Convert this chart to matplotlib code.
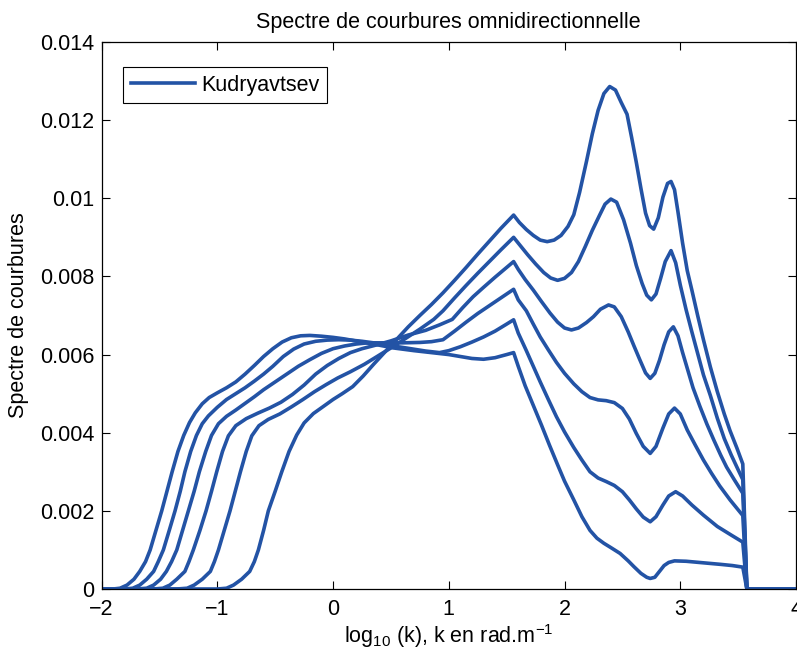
import numpy as np
import matplotlib
matplotlib.use("Agg")
import matplotlib.pyplot as plt

plt.rcParams['font.family'] = ['Liberation Sans', 'DejaVu Sans']
plt.rcParams['mathtext.default'] = 'regular'

# six spectra, from the earliest rising (c0) to the latest rising (c5)
x_c0 = [-2.0, -1.9, -1.84, -1.78, -1.72, -1.67, -1.62, -1.58, -1.53, -1.48, -1.435, -1.39,
        -1.34, -1.29, -1.24, -1.19, -1.13, -1.07, -1.0, -0.92, -0.84, -0.76, -0.68, -0.60,
        -0.52, -0.44, -0.36, -0.28, -0.2, -0.1, 0.0, 0.1, 0.23, 0.4, 0.52, 0.7, 0.85, 1.0,
        1.1, 1.2, 1.3, 1.4, 1.5, 1.56, 1.6, 1.66, 1.73, 1.8, 1.87, 1.94, 2.0, 2.08, 2.15,
        2.22, 2.28, 2.34, 2.4, 2.48, 2.55, 2.6, 2.66, 2.71, 2.74, 2.78, 2.82, 2.86, 2.9,
        2.95, 3.05, 3.2, 3.35, 3.45, 3.54, 3.575, 4.0]
y_c0 = [0, 0, 0.00002, 0.0001, 0.00025, 0.00045, 0.0007, 0.001, 0.0015, 0.002, 0.0025,
        0.003, 0.00352, 0.00393, 0.00426, 0.00451, 0.00474, 0.0049, 0.00502, 0.00515, 0.0053,
        0.0055, 0.00572, 0.00595, 0.00615, 0.00632, 0.00643, 0.00648, 0.00649, 0.00647,
        0.00644, 0.0064, 0.00633, 0.00624, 0.00617, 0.0061, 0.00605, 0.006, 0.00595,
        0.0059, 0.00588, 0.00592, 0.006, 0.00605, 0.0057, 0.0052, 0.0047, 0.0042, 0.00368,
        0.00318, 0.00276, 0.00228, 0.00185, 0.0015, 0.0013, 0.00117, 0.00106, 0.00091,
        0.00072, 0.00057, 0.0004, 0.0003, 0.00027, 0.0003, 0.00045, 0.0006, 0.00068,
        0.00072, 0.00071, 0.00067, 0.00063, 0.0006, 0.00056, 0, 0]

x_c1 = [-2.0, -1.8, -1.73, -1.67, -1.61, -1.55, -1.51, -1.466, -1.415, -1.365, -1.32, -1.28,
        -1.23, -1.18, -1.13, -1.077, -1.0, -0.92, -0.84, -0.76, -0.68, -0.6, -0.52, -0.43,
        -0.34, -0.25, -0.15, -0.05, 0.05, 0.15, 0.25, 0.4, 0.52, 0.65, 0.8, 0.92, 1.0, 1.1,
        1.2, 1.3, 1.4, 1.5, 1.56, 1.6, 1.67, 1.73, 1.79, 1.86, 1.93, 2.0, 2.08, 2.15, 2.22,
        2.29, 2.36, 2.43, 2.5, 2.56, 2.62, 2.68, 2.74, 2.79, 2.85, 2.9, 2.96, 3.02, 3.1,
        3.2, 3.32, 3.44, 3.54, 3.575, 4.0]
y_c1 = [0, 0, 0.00002, 0.0001, 0.00025, 0.00045, 0.0007, 0.001, 0.0015, 0.002, 0.0025,
        0.003, 0.00352, 0.00393, 0.00423, 0.00443, 0.00465, 0.00485, 0.005, 0.00515, 0.00532,
        0.0055, 0.0057, 0.00595, 0.00614, 0.00627, 0.00634, 0.00637, 0.00638, 0.00637,
        0.00634, 0.00628, 0.00622, 0.00616, 0.00609, 0.00605, 0.0061, 0.0062, 0.00632,
        0.00645, 0.0066, 0.00678, 0.00689, 0.00655, 0.0061, 0.0057, 0.0053, 0.00485,
        0.00441, 0.00402, 0.00362, 0.0033, 0.003, 0.00284, 0.00275, 0.00265, 0.00249,
        0.00228, 0.00205, 0.00184, 0.00172, 0.00185, 0.00215, 0.00238, 0.00249, 0.00238,
        0.00215, 0.00189, 0.0016, 0.00138, 0.0012, 0, 0]

x_c2 = [-2.0, -1.7, -1.61, -1.55, -1.49, -1.44, -1.395, -1.35, -1.3, -1.25, -1.2, -1.155,
        -1.1, -1.05, -0.99, -0.92, -0.84, -0.76, -0.68, -0.6, -0.5, -0.4, -0.3, -0.2, -0.1,
        0.0, 0.1, 0.2, 0.3, 0.45, 0.6, 0.75, 0.85, 0.95, 1.05, 1.15, 1.25, 1.35, 1.45, 1.56,
        1.6, 1.67, 1.73, 1.79, 1.86, 1.93, 2.0, 2.08, 2.15, 2.22, 2.29, 2.36, 2.43, 2.5,
        2.56, 2.62, 2.68, 2.74, 2.79, 2.85, 2.9, 2.95, 3.0, 3.06, 3.13, 3.2, 3.27, 3.34,
        3.43, 3.54, 3.575, 4.0]
y_c2 = [0, 0, 0.00002, 0.0001, 0.00025, 0.00045, 0.0007, 0.001, 0.0015, 0.002, 0.0025,
        0.003, 0.00352, 0.00393, 0.00423, 0.00442, 0.00458, 0.00475, 0.00492, 0.0051, 0.0053,
        0.0055, 0.0057, 0.00587, 0.00603, 0.00615, 0.00622, 0.00627, 0.0063, 0.0063,
        0.0063, 0.00631, 0.00633, 0.00638, 0.0066, 0.00683, 0.00705, 0.00725, 0.00745,
        0.00767, 0.0074, 0.00712, 0.00678, 0.00645, 0.00612, 0.0058, 0.00552, 0.00525,
        0.00505, 0.0049, 0.00484, 0.00482, 0.00477, 0.00462, 0.00435, 0.00398, 0.00365,
        0.00347, 0.00365, 0.00412, 0.00448, 0.00463, 0.00448, 0.00407, 0.00368, 0.0033,
        0.00296, 0.00264, 0.00228, 0.00188, 0, 0]

x_c3 = [-2.0, -1.55, -1.47, -1.41, -1.35, -1.28, -1.245, -1.207, -1.15, -1.097, -1.05,
        -1.005, -0.955, -0.904, -0.84, -0.75, -0.65, -0.55, -0.45, -0.35, -0.25, -0.15,
        -0.05, 0.05, 0.15, 0.25, 0.38, 0.5, 0.65, 0.8, 0.92, 1.03, 1.12, 1.21, 1.3, 1.4,
        1.48, 1.56, 1.6, 1.66, 1.73, 1.8, 1.875, 1.94, 2.0, 2.06, 2.12, 2.19, 2.25, 2.31,
        2.38, 2.43, 2.49, 2.55, 2.6, 2.65, 2.7, 2.74, 2.78, 2.82, 2.86, 2.9, 2.94, 2.98,
        3.02, 3.06, 3.11, 3.17, 3.23, 3.29, 3.35, 3.4, 3.47, 3.54, 3.575, 4.0]
y_c3 = [0, 0, 0.00002, 0.0001, 0.00025, 0.00045, 0.0007, 0.001, 0.0015, 0.002, 0.0025,
        0.003, 0.00352, 0.00392, 0.00418, 0.00436, 0.0045, 0.00463, 0.00478, 0.00498,
        0.00522, 0.0055, 0.00572, 0.0059, 0.00605, 0.00615, 0.00625, 0.00635, 0.0065,
        0.00662, 0.00676, 0.0069, 0.0072, 0.00748, 0.00772, 0.00798, 0.00818, 0.00838,
        0.00818, 0.00792, 0.00765, 0.00736, 0.00706, 0.00683, 0.00668, 0.00663, 0.00668,
        0.00682, 0.00697, 0.00716, 0.00727, 0.00722, 0.00697, 0.00658, 0.00622, 0.00587,
        0.00553, 0.00539, 0.00552, 0.00585, 0.00625, 0.00658, 0.00671, 0.00648, 0.00605,
        0.00565, 0.00515, 0.00467, 0.00422, 0.00381, 0.00342, 0.00312, 0.00278, 0.00245,
        0, 0]

x_c4 = [-2.0, -1.35, -1.26, -1.2, -1.13, -1.06, -1.025, -0.99, -0.94, -0.89, -0.845, -0.8,
        -0.75, -0.702, -0.64, -0.56, -0.46, -0.36, -0.26, -0.16, -0.06, 0.04, 0.15, 0.27,
        0.38, 0.5, 0.62, 0.75, 0.87, 0.95, 1.05, 1.15, 1.25, 1.35, 1.45, 1.56, 1.62, 1.68,
        1.75, 1.82, 1.88, 1.94, 2.0, 2.06, 2.12, 2.18, 2.24, 2.3, 2.35, 2.4, 2.45, 2.51,
        2.57, 2.62, 2.67, 2.71, 2.75, 2.79, 2.83, 2.87, 2.92, 2.96, 3.0, 3.05, 3.1, 3.15,
        3.2, 3.26, 3.32, 3.38, 3.44, 3.5, 3.54, 3.575, 4.0]
y_c4 = [0, 0, 0.00002, 0.0001, 0.00025, 0.00045, 0.0007, 0.001, 0.0015, 0.002, 0.0025,
        0.003, 0.00352, 0.00392, 0.00418, 0.00434, 0.00448, 0.00466, 0.00485, 0.00505,
        0.00523, 0.0054, 0.00556, 0.00575, 0.00595, 0.00617, 0.0064, 0.00665, 0.0069,
        0.00712, 0.00745, 0.00777, 0.00808, 0.00838, 0.00868, 0.009, 0.00878, 0.00856,
        0.00832, 0.0081, 0.00796, 0.0079, 0.00795, 0.0081, 0.00838, 0.00877, 0.00918,
        0.00955, 0.00985, 0.00998, 0.0099, 0.00945, 0.00885, 0.00828, 0.00782, 0.00752,
        0.0074, 0.00755, 0.00795, 0.00838, 0.00866, 0.00835, 0.00778, 0.00715, 0.00658,
        0.00603, 0.00548, 0.00495, 0.00437, 0.00385, 0.00343, 0.00305, 0.0028, 0, 0]

x_c5 = [-2.0, -1.0, -0.92, -0.86, -0.79, -0.72, -0.68, -0.645, -0.6, -0.559, -0.5, -0.443,
        -0.38, -0.314, -0.25, -0.17, -0.08, 0.0, 0.08, 0.17, 0.26, 0.35, 0.45, 0.55, 0.65,
        0.75, 0.85, 0.95, 1.05, 1.15, 1.25, 1.35, 1.45, 1.56, 1.61, 1.67, 1.73, 1.79, 1.85,
        1.91, 1.97, 2.03, 2.08, 2.13, 2.19, 2.24, 2.29, 2.34, 2.39, 2.44, 2.49, 2.54, 2.58,
        2.62, 2.66, 2.7, 2.735, 2.77, 2.81, 2.85, 2.89, 2.92, 2.95, 2.98, 3.02, 3.06, 3.1,
        3.15, 3.2, 3.26, 3.32, 3.38, 3.43, 3.49, 3.54, 3.575, 4.0]
y_c5 = [0, 0, 0.00002, 0.0001, 0.00025, 0.00045, 0.0007, 0.001, 0.0015, 0.002, 0.0025,
        0.003, 0.00352, 0.00394, 0.00425, 0.00449, 0.00468, 0.00485, 0.005, 0.00518, 0.00545,
        0.00575, 0.00607, 0.00639, 0.00671, 0.007, 0.00728, 0.00758, 0.0079, 0.00823,
        0.00857, 0.0089, 0.00923, 0.00957, 0.00938, 0.0092, 0.00905, 0.00893, 0.00889,
        0.00893, 0.00905, 0.00928, 0.00958, 0.01015, 0.01095, 0.01165, 0.01225, 0.01268,
        0.01286, 0.01277, 0.01245, 0.01215, 0.01155, 0.01092, 0.01025, 0.00962, 0.0093,
        0.00921, 0.0095, 0.01003, 0.01038, 0.01043, 0.01022, 0.00965, 0.00885, 0.00815,
        0.00765, 0.007, 0.00638, 0.00568, 0.00505, 0.00448, 0.00405, 0.0036, 0.0032, 0, 0]

x_ticks = [-2, -1, 0, 1, 2, 3, 4]
x_ticklabels = ['\u22122', '\u22121', '0', '1', '2', '3', '4']
y_ticks = [0, 0.002, 0.004, 0.006, 0.008, 0.01, 0.012, 0.014]
y_ticklabels = ['0', '0.002', '0.004', '0.006', '0.008', '0.01', '0.012', '0.014']

color = '#2353a5'
fs = 15.5

fig = plt.figure(figsize=(7.97, 6.57), dpi=100)
ax = fig.add_axes([0.1274, 0.1035, 0.8714, 0.8326])

curves = [(x_c0, y_c0), (x_c1, y_c1), (x_c2, y_c2),
          (x_c3, y_c3), (x_c4, y_c4), (x_c5, y_c5)]
for i, (xs, ys) in enumerate(curves):
    ax.plot(xs, ys, color=color, lw=2.6, solid_joinstyle='round',
            label='Kudryavtsev' if i == 0 else None)

ax.set_xlim(-2, 4)
ax.set_ylim(0, 0.014)
ax.set_xticks(x_ticks)
ax.set_xticklabels(x_ticklabels)
ax.set_yticks(y_ticks)
ax.set_yticklabels(y_ticklabels)
ax.tick_params(direction='in', length=6, width=0.8, labelsize=fs, top=True, right=True)
ax.tick_params(axis='x', pad=7)
ax.tick_params(axis='y', pad=5)
for s in ax.spines.values():
    s.set_linewidth(0.9)

ax.set_title('Spectre de courbures omnidirectionnelle', fontsize=fs, pad=10)
ax.set_xlabel('log$_{10}$ (k), k en rad.m$^{-1}$', fontsize=fs, labelpad=2)
ax.set_ylabel('Spectre de courbures', fontsize=fs, labelpad=8)

leg = ax.legend(loc='upper left', bbox_to_anchor=(0.031, 0.954), borderaxespad=0,
                fancybox=False, edgecolor='black', framealpha=1, fontsize=fs,
                handlelength=3.0, handletextpad=0.3, borderpad=0.35)
leg.get_frame().set_linewidth(0.8)

fig.savefig('out.png', dpi=100)
